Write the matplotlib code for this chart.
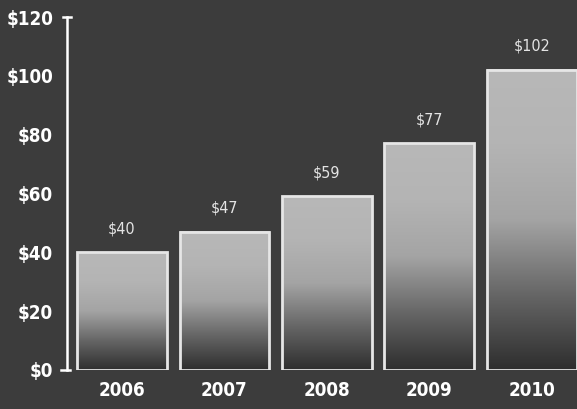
import numpy as np
import matplotlib
matplotlib.use('Agg')
import matplotlib.pyplot as plt
from matplotlib.colors import LinearSegmentedColormap

years = ['2006', '2007', '2008', '2009', '2010']
revenue = [40, 47, 59, 77, 102]
yticks = [0, 20, 40, 60, 80, 100, 120]

bg = '#3c3c3c'
fnt = ['DejaVu Sans']

fig = plt.figure(figsize=(5.77, 4.09), dpi=100, facecolor=bg)
ax = fig.add_axes([67/577, 39/409, 510/577, 353/409])
ax.set_facecolor(bg)

# light top fading into dark bottom
shade = LinearSegmentedColormap.from_list('shade', ['#2e2e2e', '#666666', '#a4a4a4', '#b4b4b4', '#b8b8b8'])
grad = np.linspace(0, 1, 256).reshape(-1, 1)
w = 0.878
x = np.arange(len(years))
for xi, v in zip(x, revenue):
    ax.imshow(grad, cmap=shade, origin='lower', aspect='auto',
              extent=(xi - w/2, xi + w/2, 0, v), zorder=1)
ax.bar(x, revenue, width=w, facecolor='none', edgecolor='#e6e6e6', linewidth=2, zorder=2)
ax.set_xlim(-0.537, 4.44)
ax.set_ylim(0, 120)

for xi, v in zip(x, revenue):
    ax.text(xi, v + 5.5, '$%d' % v, ha='center', va='bottom', color='#e4e4e4',
            fontsize=11.5, family=fnt, fontstretch='condensed', zorder=3)

for sp in ['top', 'right', 'bottom']:
    ax.spines[sp].set_visible(False)
ax.spines['left'].set_color('white')
ax.spines['left'].set_linewidth(1.8)
ax.tick_params(axis='y', length=0, pad=10)
ax.tick_params(axis='x', length=0, pad=8)
ax.set_yticks(yticks)
ax.set_yticklabels(['$%d' % t for t in yticks], color='white', fontsize=13.5,
                   fontweight='bold', family=fnt, fontstretch='condensed')
ax.set_xticks(x)
ax.set_xticklabels(years, color='white', fontsize=13.5, fontweight='bold',
                   family=fnt, fontstretch='condensed')

# end caps on the axis line
ax.plot([-0.6, -0.51], [0, 0], color='white', lw=1.8, clip_on=False)
ax.plot([-0.575, -0.5], [120, 120], color='white', lw=1.8, clip_on=False)

fig.savefig('out.png', dpi=100, facecolor=bg)
